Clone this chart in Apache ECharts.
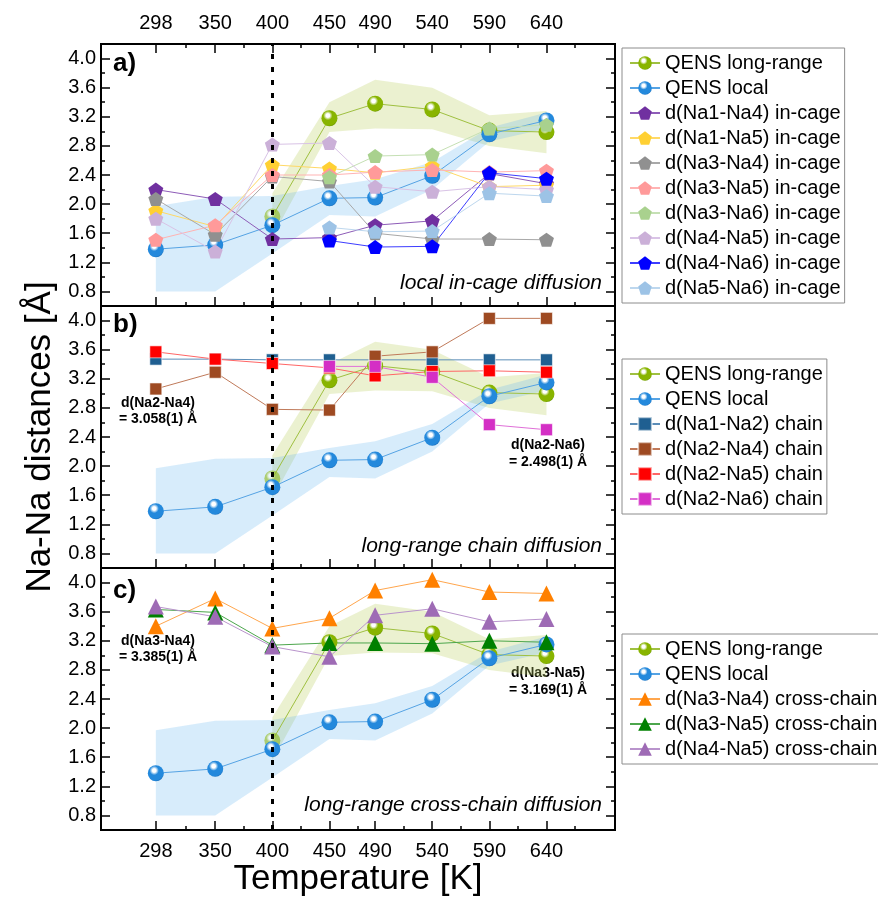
<!DOCTYPE html>
<html><head><meta charset="utf-8">
<script src="https://cdn.jsdelivr.net/npm/echarts@6/dist/echarts.min.js"></script>
<style>html,body{margin:0;padding:0;background:#fff}#c{width:878px;height:899px}</style>
</head><body><div id="c"></div>
<script>
// ---------------- DATA ----------------
const temps = [298, 350, 400, 450, 490, 540, 590, 640];
const xTickLabels = [298, 350, 400, 450, 490, 540, 590, 640];
const xMinorTicks = [324, 375, 425, 475, 515, 565, 615, 665];
const yTickLabels = [0.8, 1.2, 1.6, 2.0, 2.4, 2.8, 3.2, 3.6, 4.0];
const yMinorTicks = [1.0, 1.4, 1.8, 2.2, 2.6, 3.0, 3.4, 3.8];

const qensLocal   = [1.38, 1.44, 1.71, 2.08, 2.09, 2.39, 2.96, 3.15];
const qensLocalHi = [1.97, 2.10, 2.11, 2.25, 2.34, 2.58, 3.05, 3.26];
const qensLocalLo = [0.80, 0.80, 1.32, 1.85, 1.83, 2.20, 2.86, 3.04];
const qensLongT   = [400, 450, 490, 540, 590, 640];
const qensLong    = [1.83, 3.18, 3.38, 3.30, 3.01, 2.99];
const qensLongHi  = [2.15, 3.40, 3.71, 3.60, 3.22, 3.28];
const qensLongLo  = [1.55, 2.99, 3.04, 3.03, 2.80, 2.70];

// panel a (in-cage)
const na1na4 = [2.20, 2.07, 1.52, 1.54, 1.71, 1.77, 2.42, 2.28];
const na1na5 = [1.91, 1.69, 2.54, 2.49, 2.43, 2.52, 2.24, 2.26];
const na3na4 = [2.07, 1.58, 2.38, 2.31, 1.60, 1.52, 1.52, 1.51];
const na3na5 = [1.51, 1.71, 2.40, 2.40, 2.44, 2.47, 2.44, 2.46];
const na3na6 = [null, null, null, 2.37, 2.66, 2.68, 3.04, 3.09];
const na4na5 = [1.80, 1.35, 2.82, 2.84, 2.24, 2.17, 2.24, 2.20];
const na4na6 = [null, null, null, 1.50, 1.41, 1.42, 2.43, 2.35];
const na5na6 = [null, null, null, 1.68, 1.62, 1.63, 2.15, 2.11];
// panel b (chain)
const na1na2c = [3.47, 3.47, 3.46, 3.46, 3.46, 3.46, 3.46, 3.46];
const na2na4c = [3.06, 3.29, 2.78, 2.77, 3.51, 3.57, 4.03, 4.03];
const na2na5c = [3.57, 3.47, 3.41, 3.35, 3.24, 3.30, 3.31, 3.29];
const na2na6c = [null, null, null, 3.37, 3.37, 3.22, 2.57, 2.50];
// panel c (cross-chain)
const na3na4x = [3.40, 3.78, 3.37, 3.51, 3.89, 4.04, 3.87, 3.85];
const na3na5x = [3.63, 3.59, 3.14, 3.17, 3.17, 3.16, 3.20, 3.18];
const na4na5x = [3.67, 3.53, 3.12, 2.98, 3.55, 3.64, 3.46, 3.50];

// ---------------- CHART ----------------
const FONT = '"Liberation Sans", Arial, Helvetica, sans-serif';
const chart = echarts.init(document.getElementById('c'), null, {renderer: 'canvas'});
const PENT = 'path://M50,0 L97.6,34.5 L79.4,90.5 L20.6,90.5 L2.4,34.5 Z';
const gridTops = [44, 306, 568];
const XI = [0, 4, 6];

function sphere(base, dark) {
  return new echarts.graphic.RadialGradient(0.4, 0.33, 0.72, [
    {offset: 0, color: '#ffffff'}, {offset: 0.16, color: '#ffffff'},
    {offset: 0.4, color: base}, {offset: 0.85, color: base}, {offset: 1, color: dark}]);
}
function pts(xs, ys) { const o = []; xs.forEach((x, i) => { if (ys[i] != null) o.push([x, ys[i]]); }); return o; }

function yAx(g, pos, vals, len, labels) {
  return {type: 'value', gridIndex: g, position: pos, min: 0.6, max: 4.2,
    axisLine: {show: false}, splitLine: {show: false},
    axisTick: {show: true, inside: true, length: len, customValues: vals, lineStyle: {color: '#000', width: 1.5}},
    axisLabel: {show: labels, customValues: vals, formatter: v => v.toFixed(1), fontSize: 20, color: '#000', margin: 5, fontFamily: FONT}};
}
function xAx(g, pos, vals, len, labels) {
  return {type: 'value', gridIndex: g, position: pos, min: 250, max: 700,
    axisLine: {show: false, onZero: false}, splitLine: {show: false},
    axisTick: {show: true, inside: true, length: len, customValues: vals, lineStyle: {color: '#000', width: 1.5}},
    axisLabel: {show: labels, customValues: vals, fontSize: 20, color: '#000', margin: 11, fontFamily: FONT}};
}
const yAxes = [];
for (let g = 0; g < 3; g++) {
  yAxes.push(yAx(g, 'left', yTickLabels, 9, true), yAx(g, 'left', yMinorTicks, 4, false),
             yAx(g, 'right', yTickLabels, 9, false), yAx(g, 'right', yMinorTicks, 4, false));
}
const xAxes = [
  xAx(0, 'bottom', xTickLabels, 9, false), xAx(0, 'bottom', xMinorTicks, 4, false),
  xAx(0, 'top', xTickLabels, 9, true), xAx(0, 'top', xMinorTicks, 4, false),
  xAx(1, 'bottom', xTickLabels, 9, false), xAx(1, 'bottom', xMinorTicks, 4, false),
  xAx(2, 'bottom', xTickLabels, 9, true), xAx(2, 'bottom', xMinorTicks, 4, false)
];

function ser(name, g, xs, ys, sym, size, color, lineColor, border) {
  return {type: 'line', name, xAxisIndex: XI[g], yAxisIndex: g * 4, data: pts(xs, ys),
    symbol: sym, symbolSize: size, showSymbol: true, showAllSymbol: true,
    itemStyle: {color, borderColor: border || 'transparent', borderWidth: border ? 1 : 0},
    lineStyle: {color: lineColor, width: 1}, emphasis: {disabled: true}, animation: false, z: 3};
}
// error band drawn as a polygon through the axis scales
function band(g, xs, lo, hi, color, id) {
  return {type: 'custom', name: '_band' + id + g, xAxisIndex: XI[g], yAxisIndex: g * 4,
    data: xs.map((x, i) => [x, lo[i], hi[i]]), encode: {x: 0, y: [1, 2]},
    silent: true, animation: false, z: 1,
    renderItem: function (params, api) {
      if (params.dataIndex !== 0) return null;
      const poly = [];
      for (let i = 0; i < xs.length; i++) poly.push(api.coord([xs[i], hi[i]]));
      for (let i = xs.length - 1; i >= 0; i--) poly.push(api.coord([xs[i], lo[i]]));
      return {type: 'polygon', shape: {points: poly}, style: {fill: color, stroke: null}};
    }};
}
const gSphere = sphere('#88b400', '#5e8a00');
const bSphere = sphere('#2489dc', '#1565b0');

function qens(g) {
  const arr = [];
  arr.push(band(g, qensLongT, qensLongLo, qensLongHi, 'rgba(190,210,100,0.30)', 'G'));
  arr.push(band(g, temps, qensLocalLo, qensLocalHi, 'rgba(100,180,240,0.26)', 'B'));
  const lr = ser('QENS long-range', g, qensLongT, qensLong, 'circle', 16, gSphere, '#9fc040');
  lr.data[0] = {value: lr.data[0], itemStyle: {opacity: 0.55}};
  const lc = ser('QENS local', g, temps, qensLocal, 'circle', 16, bSphere, '#55a3e4');
  lc.markLine = {silent: true, symbol: ['none', 'none'], label: {show: false}, animation: false,
    lineStyle: {color: '#000', type: [5, 8], width: 3}, data: [{xAxis: 400}]};
  arr.push(lr, lc);
  return arr;
}

const series = [
  ...qens(0),
  ser('d(Na1-Na4) in-cage', 0, temps, na1na4, PENT, [15, 14], '#7030A0', '#8e5cb8'),
  ser('d(Na1-Na5) in-cage', 0, temps, na1na5, PENT, [15, 14], '#FFD033', '#FFD966'),
  ser('d(Na3-Na4) in-cage', 0, temps, na3na4, PENT, [15, 14], '#909090', '#A8A8A8'),
  ser('d(Na3-Na5) in-cage', 0, temps, na3na5, PENT, [15, 14], '#FF9A9A', '#FFB3B3'),
  ser('d(Na3-Na6) in-cage', 0, temps, na3na6, PENT, [15, 14], '#A9D18E', '#C5E0B4'),
  ser('d(Na4-Na5) in-cage', 0, temps, na4na5, PENT, [15, 14], '#CBB0D8', '#D9C3E6'),
  ser('d(Na4-Na6) in-cage', 0, temps, na4na6, PENT, [15, 14], '#0000FF', '#3D3DFF'),
  ser('d(Na5-Na6) in-cage', 0, temps, na5na6, PENT, [15, 14], '#9DC3E6', '#BDD7EE'),
  ...qens(1),
  ser('d(Na1-Na2) chain', 1, temps, na1na2c, 'rect', 12, '#1F5F91', '#5B8DB8', 'rgba(255,255,255,0.6)'),
  ser('d(Na2-Na4) chain', 1, temps, na2na4c, 'rect', 12, '#9E4A22', '#C07A5A', 'rgba(255,255,255,0.6)'),
  ser('d(Na2-Na5) chain', 1, temps, na2na5c, 'rect', 12, '#FF0000', '#FF6666', 'rgba(255,255,255,0.6)'),
  ser('d(Na2-Na6) chain', 1, temps, na2na6c, 'rect', 12, '#D42FC5', '#E070D8', 'rgba(255,255,255,0.6)'),
  ...qens(2),
  ser('d(Na3-Na4) cross-chain', 2, temps, na3na4x, 'triangle', 16, '#FF8000', '#FFA64D'),
  ser('d(Na3-Na5) cross-chain', 2, temps, na3na5x, 'triangle', 16, '#008000', '#4CA64C'),
  ser('d(Na4-Na5) cross-chain', 2, temps, na4na5x, 'triangle', 16, '#9E6BB5', '#B994CC')
];

function legend(top, names) {
  return {show: true, orient: 'vertical', left: 622, top, data: names, selectedMode: false,
    itemWidth: 30, itemHeight: 17, itemGap: 5, padding: [5, 4, 5, 7],
    borderColor: '#8c8c8c', borderWidth: 1, backgroundColor: '#fff',
    textStyle: {fontSize: 20, color: '#000', fontFamily: FONT, lineHeight: 20}};
}

function txt(x, y, text, font, align, extra) {
  return Object.assign({type: 'text', x, y, silent: true,
    style: {text, font, fill: '#000', align: align || 'left', verticalAlign: 'middle', textAlign: align || 'left', textVerticalAlign: 'middle'}}, extra || {});
}
const graphics = [
  txt(113, 64, 'a)', 'bold 26px ' + FONT),
  txt(113, 325, 'b)', 'bold 26px ' + FONT),
  txt(113, 591, 'c)', 'bold 26px ' + FONT),
  txt(602, 283, 'local in-cage diffusion', 'italic 21px ' + FONT, 'right'),
  txt(602, 546, 'long-range chain diffusion', 'italic 21px ' + FONT, 'right'),
  txt(602, 805, 'long-range cross-chain diffusion', 'italic 21px ' + FONT, 'right'),
  txt(158, 403, 'd(Na2-Na4)', 'bold 14px ' + FONT, 'center'),
  txt(158, 419, '= 3.058(1) Å', 'bold 14px ' + FONT, 'center'),
  txt(548, 445, 'd(Na2-Na6)', 'bold 14px ' + FONT, 'center'),
  txt(548, 462, '= 2.498(1) Å', 'bold 14px ' + FONT, 'center'),
  txt(158, 641, 'd(Na3-Na4)', 'bold 14px ' + FONT, 'center'),
  txt(158, 657, '= 3.385(1) Å', 'bold 14px ' + FONT, 'center'),
  txt(548, 673, 'd(Na3-Na5)', 'bold 14px ' + FONT, 'center'),
  txt(548, 690, '= 3.169(1) Å', 'bold 14px ' + FONT, 'center'),
  txt(40, 437, 'Na-Na distances [Å]', '35px ' + FONT, 'center', {rotation: Math.PI / 2}),
  txt(358, 879, 'Temperature [K]', '35px ' + FONT, 'center')
];

chart.setOption({
  animation: false,
  backgroundColor: '#fff',
  grid: gridTops.map(t => ({left: 101, top: t, width: 514, height: 262, show: true,
    borderColor: '#000', borderWidth: 2, backgroundColor: 'transparent', containLabel: false})),
  xAxis: xAxes,
  yAxis: yAxes,
  legend: [
    legend(48, ['QENS long-range', 'QENS local', 'd(Na1-Na4) in-cage', 'd(Na1-Na5) in-cage', 'd(Na3-Na4) in-cage',
      'd(Na3-Na5) in-cage', 'd(Na3-Na6) in-cage', 'd(Na4-Na5) in-cage', 'd(Na4-Na6) in-cage', 'd(Na5-Na6) in-cage']),
    legend(359, ['QENS long-range', 'QENS local', 'd(Na1-Na2) chain', 'd(Na2-Na4) chain', 'd(Na2-Na5) chain', 'd(Na2-Na6) chain']),
    legend(634, ['QENS long-range', 'QENS local', 'd(Na3-Na4) cross-chain', 'd(Na3-Na5) cross-chain', 'd(Na4-Na5) cross-chain'])
  ],
  graphic: graphics,
  series
});
</script>
</body></html>
